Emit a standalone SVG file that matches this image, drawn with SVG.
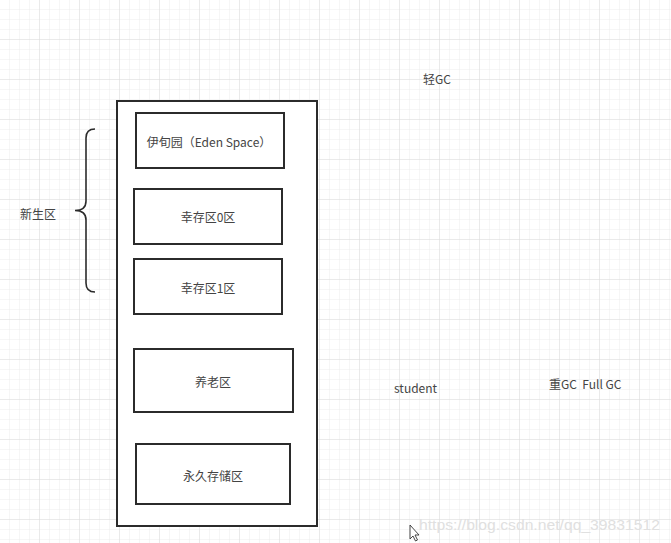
<svg xmlns="http://www.w3.org/2000/svg" width="671" height="543" viewBox="0 0 671 543">
<defs>
<pattern id="minor" width="10" height="10" patternUnits="userSpaceOnUse">
<path d="M10 0 V10 M0 10 H10" fill="none" stroke="#ececec" stroke-width="1"/>
</pattern>
<pattern id="major" width="40" height="40" patternUnits="userSpaceOnUse">
<rect width="40" height="40" fill="url(#minor)"/>
<path d="M40 0 V40 M0 40 H40" fill="none" stroke="#dedede" stroke-width="1"/>
</pattern>
<style>
.box{fill:#ffffff;stroke:#2b2b2b;stroke-width:2}
.lbl{font-family:"Noto Sans CJK SC","Liberation Sans",sans-serif;font-size:12px;fill:#444444;text-anchor:middle;dominant-baseline:central}
.free{font-family:"Noto Sans CJK SC","Liberation Sans",sans-serif;font-size:12px;fill:#444444;dominant-baseline:central}
.wm{font-family:"Liberation Sans",sans-serif;font-size:15px;fill:#e0e0e0}
</style>
</defs>
<rect width="671" height="543" fill="#ffffff"/>
<rect width="671" height="543" fill="url(#major)"/>

<g id="heap">
<rect class="box" x="117" y="101" width="200" height="425"/>
</g>
<g id="eden">
<rect class="box" x="136" y="113" width="148" height="55"/>
<text class="lbl" x="209" y="141">伊旬园（Eden Space）</text>
</g>
<g id="survivor0">
<rect class="box" x="134" y="189" width="148" height="55"/>
<text class="lbl" x="208" y="216">幸存区0区</text>
</g>
<g id="survivor1">
<rect class="box" x="134" y="259" width="148" height="55"/>
<text class="lbl" x="208" y="287">幸存区1区</text>
</g>
<g id="old">
<rect class="box" x="134" y="349" width="159" height="63"/>
<text class="lbl" x="213" y="381">养老区</text>
</g>
<g id="perm">
<rect class="box" x="136" y="444" width="154" height="60"/>
<text class="lbl" x="213" y="475">永久存储区</text>
</g>

<g id="connectors">
<path d="M95 129 C89 129 86 132 86 138 L86 201 C86 207 82 210.5 75 210.5 C82 210.5 86 214 86 220 L86 283 C86 289 89 292 95 292" fill="none" stroke="#2b2b2b" stroke-width="1.6"/>
</g>

<g id="young-label"><text class="free" x="20" y="213">新生区</text></g>
<g id="minor-gc"><text class="free" x="423" y="78">轻GC</text></g>
<g id="student"><text class="free" x="394" y="387">student</text></g>
<g id="full-gc"><text class="free" x="549" y="383" xml:space="preserve">重GC  Full GC</text></g>

<text class="wm" x="419" y="530" textLength="241" lengthAdjust="spacingAndGlyphs">https://blog.csdn.net/qq_39831512</text>
<path d="M410 525 L410 539 L413 536 L415.5 541 L417.5 540 L415 535 L419 535 Z" fill="#ffffff" stroke="#333333" stroke-width="0.9"/>
</svg>
